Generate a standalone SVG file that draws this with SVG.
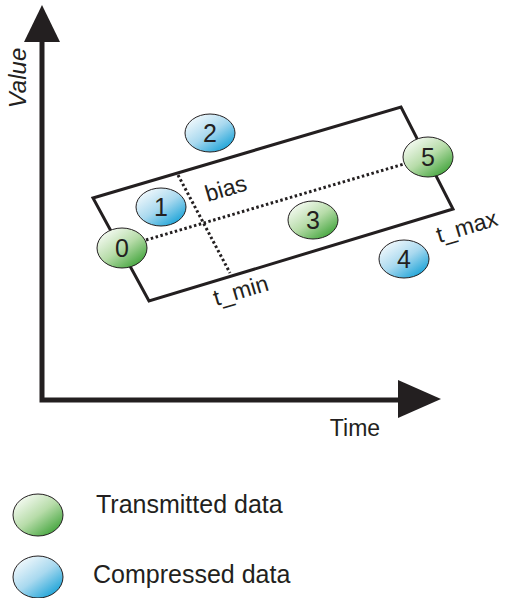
<svg xmlns="http://www.w3.org/2000/svg" width="505" height="598" viewBox="0 0 505 598">
<style>
text{font-family:"Liberation Sans",Arial,sans-serif;fill:#231f20}
.num{font-size:25px;text-anchor:middle}
.lbl{font-size:23px;text-anchor:middle}
.leg{font-size:25px}
.pt{stroke:#231f20;stroke-width:1}
.dot{fill:none;stroke:#231f20;stroke-width:3;stroke-dasharray:2.5 2.5}
</style>
<defs>
<linearGradient id="gG" x1="0.15" y1="0.1" x2="0.85" y2="0.9">
<stop offset="0" stop-color="#f4faf1"/>
<stop offset="0.5" stop-color="#b7dca9"/>
<stop offset="1" stop-color="#45a63f"/>
</linearGradient>
<linearGradient id="gB" x1="0.15" y1="0.1" x2="0.85" y2="0.9">
<stop offset="0" stop-color="#f0f8fc"/>
<stop offset="0.5" stop-color="#a9d9ef"/>
<stop offset="1" stop-color="#1ea4d8"/>
</linearGradient>
</defs>
<g id="axes">
<polyline points="42,40 42,400 400,400" fill="none" stroke="#231f20" stroke-width="5" stroke-linejoin="miter"/>
<polygon points="42,5 24,42 60,42" fill="#231f20"/>
<polygon points="441,399 398,380 398,418" fill="#231f20"/>
<text transform="translate(26,78) rotate(-90)" font-size="24" font-style="italic" text-anchor="middle">Value</text>
<text x="355" y="436" font-size="23" text-anchor="middle">Time</text>
</g>
<g id="connectors">
<polygon id="band" points="93,198 401,107 453,209 149,301" fill="none" stroke="#231f20" stroke-width="3" stroke-linejoin="miter"/>
<line class="dot" x1="146" y1="240" x2="404" y2="164"/>
<line class="dot" x1="178" y1="175" x2="230" y2="273"/>
<text class="lbl" transform="translate(228,196) rotate(-16.5)">bias</text>
<text class="lbl" transform="translate(243,298) rotate(-16.5)">t_min</text>
<text class="lbl" transform="translate(469,234) rotate(-16.5)">t_max</text>
</g>
<g id="n2"><ellipse class="pt" cx="210" cy="133" rx="25" ry="19" fill="url(#gB)"/><text class="num" x="210" y="142">2</text></g>
<g id="n1"><ellipse class="pt" cx="161" cy="207" rx="25" ry="19" fill="url(#gB)"/><text class="num" x="161" y="216">1</text></g>
<g id="n0"><ellipse class="pt" cx="122" cy="248" rx="25" ry="20" fill="url(#gG)"/><text class="num" x="122" y="257">0</text></g>
<g id="n3"><ellipse class="pt" cx="313" cy="220" rx="25" ry="19" fill="url(#gG)"/><text class="num" x="313" y="229">3</text></g>
<g id="n4"><ellipse class="pt" cx="404" cy="259" rx="25" ry="19" fill="url(#gB)"/><text class="num" x="404" y="268">4</text></g>
<g id="n5"><ellipse class="pt" cx="428" cy="157" rx="25" ry="20" fill="url(#gG)"/><text class="num" x="428" y="166">5</text></g>
<g id="legend-transmitted"><ellipse class="pt" cx="38" cy="515" rx="25" ry="21" fill="url(#gG)"/><text class="leg" x="96" y="513">Transmitted data</text></g>
<g id="legend-compressed"><ellipse class="pt" cx="38" cy="577" rx="25" ry="21" fill="url(#gB)"/><text class="leg" x="93" y="583">Compressed data</text></g>
</svg>
